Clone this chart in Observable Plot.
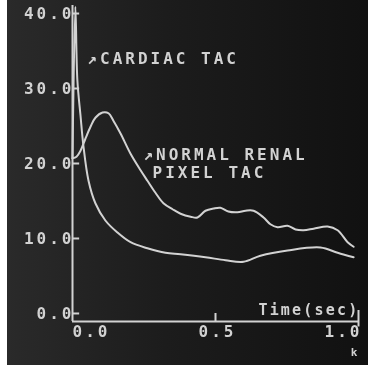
<!DOCTYPE html>
<html>
<head>
<meta charset="utf-8">
<script src="https://cdn.jsdelivr.net/npm/d3@7"></script>
<script src="https://cdn.jsdelivr.net/npm/@observablehq/plot@0.6"></script>
<style>
  html, body { margin: 0; padding: 0; background: #ffffff; }
  #chart svg { display: block; }
</style>
</head>
<body>
<div id="chart"></div>
<script>
// ---- data ----
const cardiacTime  = [0, 0.010, 0.017, 0.028, 0.038, 0.056, 0.080, 0.115, 0.157, 0.203, 0.262, 0.325, 0.378, 0.465, 0.535, 0.598, 0.657, 0.752, 0.867, 0.927, 0.983];
const cardiacValue = [20.7, 40.9, 31.1, 26.4, 22.4, 17.7, 14.7, 12.4, 10.8, 9.5, 8.7, 8.1, 7.9, 7.5, 7.1, 6.9, 7.7, 8.4, 8.8, 8.1, 7.5];

const renalTime  = [0, 0.014, 0.028, 0.045, 0.063, 0.080, 0.105, 0.126, 0.143, 0.168, 0.203, 0.238, 0.262, 0.290, 0.318, 0.350, 0.378, 0.413, 0.437, 0.465, 0.493, 0.517, 0.545, 0.577, 0.605, 0.633, 0.668, 0.692, 0.717, 0.752, 0.780, 0.808, 0.843, 0.892, 0.927, 0.962, 0.983];
const renalValue = [20.7, 20.9, 21.7, 23.3, 24.9, 26.1, 26.8, 26.7, 25.7, 24.0, 21.3, 19.1, 17.7, 16.1, 14.7, 13.9, 13.3, 12.9, 12.8, 13.7, 14.0, 14.1, 13.6, 13.5, 13.7, 13.7, 12.8, 11.9, 11.5, 11.7, 11.2, 11.1, 11.3, 11.6, 11.1, 9.5, 8.9];

const yTickValues = [0, 10, 20, 30, 40];
const yTickLabels = ["0.0", "10.0", "20.0", "30.0", "40.0"];
const xTickValues = [0, 0.5, 1.0];
const xTickLabels = ["0.0", "0.5", "1.0"];
const xTitle = "Time(sec)";
const cardiacLabel = "↗CARDIAC TAC";
const renalLabel1 = "↗NORMAL RENAL";
const renalLabel2 = "PIXEL TAC";

const ink = "#d2d2d2";
const yBottom = -1.07, yTop = 41.07;

const chart = Plot.plot({
  width: 368,
  height: 365,
  marginLeft: 72,
  marginRight: 10,
  marginTop: 5,
  marginBottom: 44,
  x: { domain: [0, 1], axis: null },
  y: { domain: [yBottom, yTop], axis: null },
  style: {
    color: ink,
    fontFamily: "DejaVu Sans Mono",
    fontSize: "16px",
    fontWeight: "bold",
    letterSpacing: "3px"
  },
  marks: [
    // axes
    Plot.ruleX([0], { y1: yBottom, y2: yTop, stroke: ink, strokeWidth: 2 }),
    Plot.ruleY([yBottom], { x1: 0, x2: 1, stroke: ink, strokeWidth: 2 }),
    Plot.ruleY(yTickValues, { x1: 0, x2: 0.025, stroke: ink, strokeWidth: 2 }),
    Plot.ruleX([0.5], { y1: yBottom, y2: 0, stroke: ink, strokeWidth: 2 }),
    Plot.ruleX([1.0], { y1: -1.8, y2: 0.4, stroke: ink, strokeWidth: 2 }),
    // tick labels
    Plot.text(yTickValues, { x: 0, y: d => d, text: (d, i) => yTickLabels[i], textAnchor: "end", dx: 2, fill: ink }),
    Plot.text([xTickLabels[0]], { x: xTickValues[0], y: yBottom, text: d => d, textAnchor: "start", dy: 10, fill: ink }),
    Plot.text([xTickLabels[1]], { x: xTickValues[1], y: yBottom, text: d => d, textAnchor: "middle", dy: 10, dx: 2, fill: ink }),
    Plot.text([xTickLabels[2]], { x: xTickValues[2], y: yBottom, text: d => d, textAnchor: "end", dy: 10, dx: 4, fill: ink }),
    Plot.text([xTitle], { x: 0.65, y: 0.4, text: d => d, textAnchor: "start", fontSize: 15, fill: ink }),
    Plot.text(["k"], { x: 0.99, y: yBottom, text: d => d, textAnchor: "middle", dy: 31, fontSize: 11, fill: ink }),
    // curves
    Plot.line(cardiacTime, { x: cardiacTime, y: cardiacValue, stroke: ink, strokeWidth: 2, curve: "catmull-rom" }),
    Plot.line(renalTime, { x: renalTime, y: renalValue, stroke: ink, strokeWidth: 2, curve: "catmull-rom" }),
    // annotations
    Plot.text([cardiacLabel], { x: 0.052, y: 33.9, text: d => d, textAnchor: "start", fill: ink }),
    Plot.text([renalLabel1], { x: 0.248, y: 21.1, text: d => d, textAnchor: "start", fill: ink }),
    Plot.text([renalLabel2], { x: 0.28, y: 18.7, text: d => d, textAnchor: "start", fill: ink })
  ]
});
d3.select(chart).selectAll("text")
  .filter(function () { return this.textContent === xTitle; })
  .attr("letter-spacing", "2.2px");
chart.style.background = "linear-gradient(to right, #ffffff 0px, #ffffff 7px, #2a2a2a 7px, #1c1c1c 45%, #111111 100%)";
chart.style.filter = "blur(0.4px)";
document.getElementById("chart").appendChild(chart);
</script>
</body>
</html>
